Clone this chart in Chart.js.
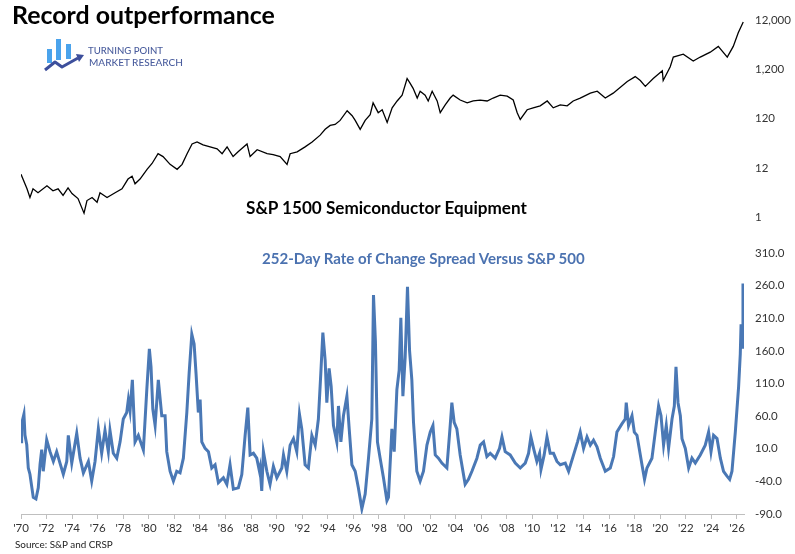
<!DOCTYPE html>
<html><head><meta charset="utf-8">
<script src="https://cdn.jsdelivr.net/npm/chart.js@4.4.1/dist/chart.umd.min.js"></script>
<style>
html,body{margin:0;padding:0;background:#fff;}
body{width:795px;height:554px;position:relative;overflow:hidden;font-family:Lato,'Open Sans',sans-serif;}
canvas{position:absolute;left:0;}
#c1{top:0;}
#c2{top:235px;}
.t{position:absolute;white-space:nowrap;line-height:1;}
#title{left:12px;top:2px;font-size:26px;font-weight:700;color:#000;}
#lg1{left:88px;top:46px;font-size:11px;color:#4b5e9e;font-weight:500;}
#lg2{left:89px;top:57px;font-size:11px;color:#4b5e9e;font-weight:500;}
#sub1{left:246px;top:199px;font-size:17px;font-weight:700;color:#000;}
#sub2{left:262px;top:251px;font-size:17px;font-weight:700;color:#4b72b0;}
#src{left:15px;top:540px;font-size:11px;color:#222;}
#logo{position:absolute;left:42px;top:36px;}
</style>
</head><body>
<canvas id="c1" width="795" height="235"></canvas>
<canvas id="c2" width="795" height="319"></canvas>
<div class="t" id="title">Record outperformance</div>
<svg id="logo" width="46" height="40" viewBox="0 0 46 40">
  <rect x="5" y="13" width="5" height="14" fill="#4aa3ec"/>
  <rect x="14" y="3" width="5" height="21" fill="#4aa3ec"/>
  <rect x="24" y="8" width="5" height="15" fill="#4aa3ec"/>
  <polyline points="3,34 13,26 20,31 36,22" fill="none" stroke="#3d4f9c" stroke-width="3" stroke-linejoin="round"/>
  <polygon points="34,18 42,19 37,26" fill="#3d4f9c"/>
</svg>
<div class="t" id="lg1">TURNING POINT</div>
<div class="t" id="lg2">MARKET RESEARCH</div>
<div class="t" id="sub1">S&amp;P 1500 Semiconductor Equipment</div>
<div class="t" id="sub2">252-Day Rate of Change Spread Versus S&amp;P 500</div>
<div class="t" id="src">Source: S&amp;P and CRSP</div>
<script>
// ---- DATA ----
const topYears = [1970.00,1970.47,1970.70,1970.94,1971.33,1972.03,1972.50,1972.90,1973.29,1973.68,1973.99,1974.46,1974.93,1975.16,1975.56,1975.95,1976.18,1976.73,1977.36,1977.90,1978.37,1978.69,1978.92,1979.31,1979.86,1980.25,1980.72,1981.11,1981.66,1982.21,1982.60,1982.99,1983.38,1983.77,1984.24,1984.79,1985.34,1985.73,1986.12,1986.59,1986.98,1987.68,1987.92,1988.47,1989.25,1989.72,1990.27,1990.81,1991.05,1991.60,1992.22,1992.77,1993.40,1993.79,1994.18,1994.57,1994.96,1995.51,1995.90,1996.14,1996.53,1996.92,1997.31,1997.54,1997.94,1998.25,1998.64,1999.03,1999.42,1999.81,2000.20,2000.44,2000.67,2000.99,2001.22,2001.61,2001.85,2002.16,2002.55,2002.79,2003.18,2003.57,2003.80,2004.35,2004.90,2005.37,2005.92,2006.46,2006.93,2007.48,2008.03,2008.50,2008.81,2009.05,2009.59,2010.06,2010.61,2011.16,2011.63,2012.18,2012.72,2013.19,2013.74,2014.53,2015.07,2015.70,2016.32,2017.42,2018.04,2018.44,2018.83,2019.45,2020.16,2020.23,2020.78,2021.02,2021.80,2022.58,2023.13,2023.91,2024.54,2025.24,2025.71,2026.10,2026.49];
const topValues = [8.9,4.5,3.0,4.5,3.75,5.2,4.1,4.5,3.3,4.7,3.6,2.85,1.44,2.6,3.0,2.4,3.75,3.0,3.75,4.5,7.1,8.1,5.7,7.1,11.2,14.7,23.2,20.3,14.1,11.2,14.1,23.2,36.6,40.2,35,32,29.2,23.2,32,20.3,25.4,36.6,20.3,27.9,23.2,22.2,20.3,14.1,23.2,25.4,32,40.2,55.3,72.6,87.2,91.3,110,173,137,110,72.6,110,144,249,158,181,100,198,273,358,779,620,493,313,430,358,273,430,273,158,227,313,358,285,249,273,285,273,313,358,342,285,158,115,181,198,217,273,198,227,217,273,313,393,430,313,393,678,852,710,540,779,1121,710,1346,2124,2434,1768,2124,2667,3502,2124,3502,6636,10944];

const botYears = [1970.00,1970.05,1970.23,1970.31,1970.45,1970.57,1970.70,1970.96,1971.17,1971.35,1971.49,1971.62,1971.74,1972.01,1972.27,1972.53,1972.79,1973.05,1973.31,1973.58,1973.70,1973.97,1974.36,1974.62,1974.88,1975.27,1975.53,1975.79,1976.05,1976.31,1976.57,1976.83,1976.96,1977.22,1977.49,1977.75,1978.00,1978.27,1978.40,1978.53,1978.71,1978.92,1979.18,1979.44,1979.57,1979.84,1980.04,1980.17,1980.31,1980.49,1980.74,1981.01,1981.27,1981.40,1981.66,1981.92,1982.18,1982.44,1982.70,1982.97,1983.15,1983.36,1983.54,1983.69,1983.87,1984.01,1984.14,1984.40,1984.66,1984.92,1985.18,1985.44,1985.83,1986.10,1986.35,1986.61,1987.00,1987.27,1987.53,1987.74,1987.92,1988.18,1988.44,1988.65,1988.70,1988.83,1988.96,1989.23,1989.48,1989.74,1990.01,1990.40,1990.53,1990.79,1991.05,1991.31,1991.57,1991.78,1991.96,1992.22,1992.48,1992.75,1993.01,1993.26,1993.45,1993.61,1993.79,1993.92,1994.10,1994.26,1994.44,1994.70,1994.83,1995.02,1995.22,1995.49,1995.67,1995.88,1996.14,1996.39,1996.66,1996.92,1997.18,1997.44,1997.57,1997.72,1997.88,1998.09,1998.35,1998.62,1998.74,1999.01,1999.19,1999.40,1999.58,1999.71,1999.87,2000.05,2000.23,2000.39,2000.57,2000.70,2000.96,2001.22,2001.48,2001.75,2002.01,2002.22,2002.40,2002.65,2002.92,2003.31,2003.57,2003.70,2003.88,2004.09,2004.35,2004.74,2005.00,2005.27,2005.66,2005.92,2006.18,2006.44,2006.70,2007.09,2007.43,2007.62,2007.87,2008.26,2008.66,2009.05,2009.44,2009.70,2009.88,2010.09,2010.35,2010.56,2010.67,2010.92,2011.14,2011.39,2011.65,2011.92,2012.18,2012.57,2012.83,2013.22,2013.53,2013.74,2014.00,2014.27,2014.53,2014.78,2015.05,2015.31,2015.70,2016.09,2016.35,2016.61,2017.00,2017.26,2017.34,2017.52,2017.79,2017.97,2018.18,2018.57,2018.77,2018.96,2019.35,2019.61,2019.87,2020.06,2020.26,2020.47,2020.65,2020.92,2021.10,2021.23,2021.39,2021.57,2021.70,2021.96,2022.22,2022.48,2022.74,2023.13,2023.52,2023.78,2023.97,2024.17,2024.44,2024.70,2024.95,2025.22,2025.43,2025.61,2025.87,2026.13,2026.26,2026.32,2026.40,2026.47];
const botValues = [20.5,48,63,31,16,-19.5,-29,-64.5,-67,-50,-14,8.5,-24.5,23.5,5.5,-9.5,5.5,-12,-29,-9.5,30.5,-12,33.5,-4.5,-27,-9.5,-39.5,-9.5,40.5,3,38,5.5,38,3,-4.5,20.5,55.5,65.5,85.5,68,115.5,20.5,30.5,15.5,8,100.5,163,135.5,70.5,45.5,115.5,60.5,60.5,5.5,-24.5,-39.5,-24.5,-27,-4.5,65.5,125.5,185.5,170.5,125.5,65.5,85.5,20.5,10.5,5.5,-19.5,-14.5,-42,-34.5,-44.5,-14.5,-52,-50,-29.5,30.5,73,0.5,3,-4.5,-24.5,-19.5,-54.5,5.5,-24.5,-44.5,-17,-34.5,-19.5,0.5,-24.5,15.5,25.5,5.5,63,40.5,-14.5,-19.5,30.5,15.5,55.5,125.5,188,145.5,80.5,133,105.5,45.5,20.5,75.5,20.5,60.5,90.5,40.5,-14.5,-24.5,-50,-82,-59.5,-4.5,55.5,245.5,175.5,20.5,-4.5,-34.5,-69.5,-64.5,40.5,5.5,100.5,130.5,210.5,90.5,150.5,258,160.5,115.5,50.5,-24.5,-39.5,-24.5,15.5,35.5,45.5,0.5,-4.5,-12,-19.5,45.5,80.5,50.5,40.5,0.5,-44.5,-37,-24.5,-4.5,15.5,20.5,-2,3,-4.5,10.5,28,5.5,0.5,-12,-19.5,-12,3,28,10.5,-9.5,3,-22,0.5,28,3,3,-9.5,-14.5,-12,-24.5,0.5,20.5,35.5,10.5,28,15.5,23,13,-4.5,-24.5,-19.5,-2,35.5,48,55.5,80.5,45.5,60.5,35.5,30.5,-14.5,-37,-19.5,-4.5,35.5,75.5,60.5,15.5,45.5,10.5,55.5,75.5,135.5,80.5,60.5,25.5,10.5,-19.5,-4.5,-12,0.5,15.5,35.5,5.5,30.5,25.5,-4.5,-24.5,-32,-37,-24.5,35.5,105.5,155.5,200.5,165.5,263];

const topTickValues = [1.2, 12, 120, 1200, 12000];
const topTickLabels = ['1', '12', '120', '1,200', '12,000'];
const xTickYears = [1970,1972,1974,1976,1978,1980,1982,1984,1986,1988,1990,1992,1994,1996,1998,2000,2002,2004,2006,2008,2010,2012,2014,2016,2018,2020,2022,2024,2026];
const xTickLabels = ["'70","'72","'74","'76","'78","'80","'82","'84","'86","'88","'90","'92","'94","'96","'98","'00","'02","'04","'06","'08","'10","'12","'14","'16","'18","'20","'22","'24","'26"];

// ---- text fitting ----
function fit(id, w){
  const el = document.getElementById(id);
  const fs = parseFloat(getComputedStyle(el).fontSize);
  const cw = el.getBoundingClientRect().width;
  el.style.fontSize = (fs * w / cw) + 'px';
}
fit('title', 263); fit('lg1', 75); fit('lg2', 94); fit('sub1', 281); fit('sub2', 323); fit('src', 98);

const X_MIN = 1970, X_MAX = 2026.55;
const axisFont = {family: 'Lato', size: 11.5};

new Chart(document.getElementById('c1'), {
  type: 'line',
  data: {datasets: [{data: topYears.map((x, i) => ({x, y: topValues[i]})), borderColor: '#000', borderWidth: 1.3, pointRadius: 0, tension: 0}]},
  options: {
    responsive: false, animation: false, events: [],
    layout: {padding: {left: 21, right: 0, top: 20, bottom: 13}},
    plugins: {legend: {display: false}, tooltip: {enabled: false}},
    scales: {
      x: {type: 'linear', min: X_MIN, max: X_MAX, display: false},
      y: {
        type: 'logarithmic', position: 'right', min: 1.2, max: 12000,
        afterBuildTicks: s => { s.ticks = topTickValues.map(v => ({value: v})); },
        afterFit: s => { s.width = 51; },
        grid: {display: false, drawTicks: false}, border: {display: false},
        ticks: {padding: 11, color: '#333', font: axisFont,
          callback: v => { const i = topTickValues.indexOf(v); return i >= 0 ? topTickLabels[i] : ''; }}
      }
    }
  }
});

new Chart(document.getElementById('c2'), {
  type: 'line',
  data: {datasets: [{data: botYears.map((x, i) => ({x, y: botValues[i]})), borderColor: '#4a78b5', borderWidth: 3, pointRadius: 0, tension: 0}]},
  options: {
    responsive: false, animation: false, events: [],
    layout: {padding: {left: 21, right: 0, top: 12, bottom: 18}},
    plugins: {legend: {display: false}, tooltip: {enabled: false}},
    scales: {
      x: {
        type: 'linear', min: X_MIN, max: X_MAX,
        afterBuildTicks: s => { s.ticks = xTickYears.map(v => ({value: v})); },
        afterFit: s => { s.height = 22; },
        grid: {display: true, drawOnChartArea: false, drawTicks: true, tickLength: 5, color: '#bfbfbf'},
        border: {display: true, color: '#bfbfbf'},
        ticks: {color: '#333', font: axisFont, maxRotation: 0, autoSkip: false, padding: 2,
          callback: v => { const i = xTickYears.indexOf(v); return i >= 0 ? xTickLabels[i] : ''; }}
      },
      y: {
        position: 'right', min: -90, max: 310,
        afterFit: s => { s.width = 51; },
        grid: {display: false, drawTicks: false}, border: {display: false},
        ticks: {stepSize: 50, padding: 11, color: '#333', font: axisFont, callback: v => v.toFixed(1)}
      }
    }
  }
});
</script>
</body></html>
